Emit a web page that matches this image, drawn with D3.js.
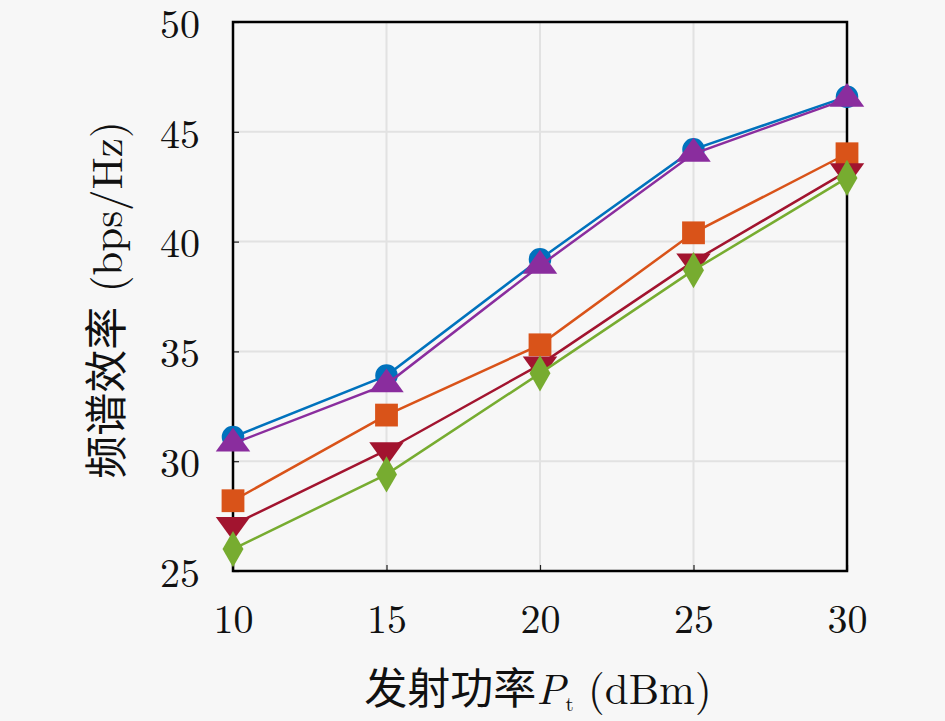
<!DOCTYPE html>
<html>
<head>
<meta charset="utf-8">
<script src="https://cdn.jsdelivr.net/npm/d3@7"></script>
<style>
  body { margin: 0; background: #f7f7f7; }
  svg { display: block; }
</style>
</head>
<body>
<div id="chart"></div>
<script>
// data
var powers = [10, 15, 20, 25, 30];
var xTicks = [10, 15, 20, 25, 30];
var yTicks = [25, 30, 35, 40, 45, 50];

var seriesBlue    = [31.1, 33.9, 39.2, 44.2, 46.6];
var seriesPurple  = [30.8, 33.5, 38.9, 44.0, 46.5];
var seriesOrange  = [28.2, 32.1, 35.3, 40.4, 44.0];
var seriesCrimson = [27.1, 30.5, 34.4, 39.1, 43.2];
var seriesGreen   = [26.0, 29.4, 34.0, 38.7, 42.9];

var series = [
  {values: seriesBlue,    color: "#0072BD", symbol: "circle"},
  {values: seriesPurple,  color: "#8A2D9E", symbol: "triUp"},
  {values: seriesOrange,  color: "#D95319", symbol: "square"},
  {values: seriesCrimson, color: "#A2142F", symbol: "triDown"},
  {values: seriesGreen,   color: "#77AC30", symbol: "diamond"}
];

var W = 945, H = 721;
var margin = {top: 22, right: 98, bottom: 150, left: 233};
var width = W - margin.left - margin.right,
    height = H - margin.top - margin.bottom;

var svg = d3.select("#chart")
  .append("svg")
  .attr("width", W)
  .attr("height", H)
  .style("background", "#f7f7f7");

var g = svg.append("g")
  .attr("transform", "translate(" + margin.left + "," + margin.top + ")");

var x = d3.scaleLinear().domain([10, 30]).range([0, width]);
var y = d3.scaleLinear().domain([25, 50]).range([height, 0]);

var serif = "'Latin Modern Roman', 'DejaVu Serif', 'Liberation Serif', serif";
var cjk = "'Noto Sans CJK SC', sans-serif";

// grid
g.append("g")
  .selectAll("line.gx")
  .data(xTicks)
  .enter().append("line")
  .attr("x1", d => x(d)).attr("x2", d => x(d))
  .attr("y1", 0).attr("y2", height)
  .style("stroke", "#e2e2e2").style("stroke-width", 2);

g.append("g")
  .selectAll("line.gy")
  .data(yTicks)
  .enter().append("line")
  .attr("x1", 0).attr("x2", width)
  .attr("y1", d => y(d)).attr("y2", d => y(d))
  .style("stroke", "#e2e2e2").style("stroke-width", 2);

// axes
var xAxis = d3.axisBottom(x).tickValues(xTicks).tickSizeInner(-6).tickSizeOuter(0).tickPadding(34);
var yAxis = d3.axisLeft(y).tickValues(yTicks).tickSizeInner(-6).tickSizeOuter(0).tickPadding(33);

g.append("g")
  .attr("class", "x-axis")
  .attr("transform", "translate(0," + height + ")")
  .call(xAxis);

g.append("g")
  .attr("class", "y-axis")
  .call(yAxis);

g.selectAll(".x-axis text, .y-axis text")
  .style("font-family", serif)
  .style("font-size", "40px")
  .style("fill", "#111");
g.selectAll(".y-axis text").attr("dy", "0.38em");
g.selectAll(".x-axis text").attr("dy", "0.71em");
g.selectAll(".tick line").style("stroke", "#222").style("stroke-width", 1.2);
g.selectAll(".domain").remove();

// frame
g.append("rect")
  .attr("x", 0).attr("y", 0)
  .attr("width", width).attr("height", height)
  .style("fill", "none")
  .style("stroke", "#000")
  .style("stroke-width", 2.5);

// lines
var line = d3.line()
  .x((d, i) => x(powers[i]))
  .y(d => y(d));

var symbols = {
  circle: d3.symbol().type(d3.symbolCircle).size(400),
  square: d3.symbol().type(d3.symbolSquare).size(520),
  triUp: d3.symbol().type(d3.symbolTriangle).size(330),
  triDown: d3.symbol().type(d3.symbolTriangle).size(330),
  diamond: d3.symbol().type(d3.symbolDiamond).size(380)
};

series.forEach(function (s) {
  g.append("path")
    .datum(s.values)
    .attr("d", line)
    .style("fill", "none")
    .style("stroke", s.color)
    .style("stroke-width", 2.5);

  g.selectAll(null)
    .data(s.values)
    .enter().append("path")
    .attr("d", symbols[s.symbol])
    .attr("transform", function (d, i) {
      var t = "translate(" + x(powers[i]) + "," + y(d) + ")";
      if (s.symbol === "triDown") t += " rotate(180)";
      if (s.symbol === "triUp" || s.symbol === "triDown") t += " scale(1.25,1)";
      return t;
    })
    .style("fill", s.color);
});

// x title
var xt = svg.append("text")
  .attr("x", 538)
  .attr("y", 704)
  .attr("text-anchor", "middle")
  .style("font-size", "43px")
  .style("fill", "#111");
xt.append("tspan").style("font-family", cjk).text("发射功率");
xt.append("tspan").style("font-family", serif).style("font-style", "italic").text("P");
xt.append("tspan").style("font-family", serif).style("font-size", "21px").attr("dy", 7).text("t");
xt.append("tspan").style("font-family", serif).attr("dy", -7).text(" (dBm)");

// y title
var yt = svg.append("text")
  .attr("transform", "translate(122,300) rotate(-90)")
  .attr("text-anchor", "middle")
  .style("font-size", "43px")
  .style("fill", "#111");
yt.append("tspan").style("font-family", cjk).text("频谱效率");
yt.append("tspan").style("font-family", serif).text(" (bps/Hz)");
</script>
</body>
</html>
